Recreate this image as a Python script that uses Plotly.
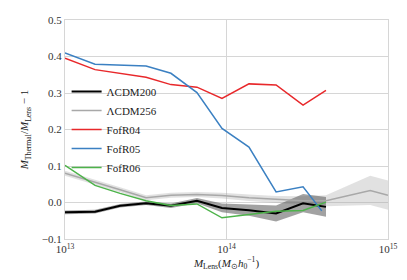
import plotly.graph_objects as go

# Mass bins (log10 M_Lens) for each series
logm_bins = [13.0, 13.186, 13.341, 13.502, 13.656, 13.817, 13.972, 14.139, 14.307, 14.474, 14.616]

lcdm200_logm = logm_bins
lcdm200_val = [-0.027, -0.025, -0.009, -0.002, -0.009, 0.005, -0.015, -0.021, -0.030, -0.002, -0.012]
lcdm200_err = [0.005, 0.005, 0.005, 0.005, 0.006, 0.007, 0.012, 0.015, 0.022, 0.025, 0.027]

lcdm256_logm = logm_bins + [14.89, 15.0]
lcdm256_val = [0.080, 0.056, 0.035, 0.013, 0.020, 0.022, 0.019, 0.013, 0.008, 0.005, 0.005, 0.033, 0.020]
lcdm256_err = [0.007, 0.007, 0.007, 0.007, 0.007, 0.007, 0.008, 0.009, 0.010, 0.012, 0.015, 0.040, 0.040]

fofr04_logm = [13.0, 13.186, 13.502, 13.656, 13.817, 13.972, 14.139, 14.307, 14.474, 14.616]
fofr04_val = [0.395, 0.364, 0.343, 0.323, 0.316, 0.285, 0.325, 0.322, 0.267, 0.307]

fofr05_logm = [13.0, 13.186, 13.502, 13.656, 13.817, 13.972, 14.139, 14.307, 14.474, 14.59]
fofr05_val = [0.410, 0.379, 0.374, 0.354, 0.301, 0.203, 0.152, 0.029, 0.043, -0.023]

fofr06_logm = logm_bins
fofr06_val = [0.102, 0.047, 0.025, 0.005, -0.008, -0.004, -0.042, -0.032, -0.024, -0.022, 0.001]

y_ticks = [-0.1, 0.0, 0.1, 0.2, 0.3, 0.4, 0.5]
y_ticktext = ["\u22120.1", "0.0", "0.1", "0.2", "0.3", "0.4", "0.5"]
x_ticks = [1e13, 1e14, 1e15]
x_ticktext = ["10<sup>13</sup>", "10<sup>14</sup>", "10<sup>15</sup>"]

FONT = "Liberation Serif"

def m(logs):
    return [10 ** v for v in logs]

fig = go.Figure()

def band(logs, val, err, color):
    x = m(logs)
    up = [v + e for v, e in zip(val, err)]
    lo = [v - e for v, e in zip(val, err)]
    fig.add_trace(go.Scatter(x=x, y=up, mode="lines", line=dict(width=0), showlegend=False, hoverinfo="skip"))
    fig.add_trace(go.Scatter(x=x, y=lo, mode="lines", line=dict(width=0), fill="tonexty",
                             fillcolor=color, showlegend=False, hoverinfo="skip"))

band(lcdm256_logm, lcdm256_val, lcdm256_err, "rgba(170,170,170,0.35)")
band(lcdm200_logm, lcdm200_val, lcdm200_err, "rgba(100,100,100,0.6)")

fig.add_trace(go.Scatter(x=m(lcdm200_logm), y=lcdm200_val, mode="lines", name="\u039bCDM200",
                         line=dict(color="black", width=2)))
fig.add_trace(go.Scatter(x=m(lcdm256_logm), y=lcdm256_val, mode="lines", name="\u039bCDM256",
                         line=dict(color="#a8a8a8", width=1.5)))
fig.add_trace(go.Scatter(x=m(fofr04_logm), y=fofr04_val, mode="lines", name="FofR04",
                         line=dict(color="#e8282b", width=1.5)))
fig.add_trace(go.Scatter(x=m(fofr05_logm), y=fofr05_val, mode="lines", name="FofR05",
                         line=dict(color="#3b80c2", width=1.5)))
fig.add_trace(go.Scatter(x=m(fofr06_logm), y=fofr06_val, mode="lines", name="FofR06",
                         line=dict(color="#4db34a", width=1.5)))

fig.update_layout(
    width=399, height=272,
    margin=dict(l=57, r=19, t=6, b=41),
    paper_bgcolor="white", plot_bgcolor="white",
    font=dict(family=FONT, size=10, color="#333"),
    showlegend=True,
    legend=dict(x=0.005, y=0.74, xanchor="left", yanchor="top", traceorder="normal",
                bgcolor="rgba(255,255,255,0)", font=dict(family=FONT, size=11, color="#222"),
                tracegroupgap=0, itemwidth=30),
    xaxis=dict(type="log", range=[13, 15], tickvals=x_ticks, ticktext=x_ticktext,
               showgrid=True, gridcolor="#d6d6d6", gridwidth=1,
               showline=True, linecolor="#d6d6d6", linewidth=1, mirror=True,
               ticks="", zeroline=False, ticklabeloverflow="allow",
               tickfont=dict(family=FONT, size=11, color="#333"),
               title=dict(text="<i>M</i><sub>Lens</sub>(<i>M</i><sub>\u2299</sub><i>h</i><sub>0</sub><sup>\u22121</sup>)",
                          font=dict(family=FONT, size=11, color="#222"), standoff=0)),
    yaxis=dict(range=[-0.1, 0.5], tickvals=y_ticks, ticktext=y_ticktext,
               showgrid=True, gridcolor="#d6d6d6", gridwidth=1,
               showline=True, linecolor="#d6d6d6", linewidth=1, mirror=True,
               ticks="", zeroline=False, ticklabeloverflow="allow",
               tickfont=dict(family=FONT, size=11, color="#333"),
               title=dict(text="<i>M</i><sub>Thermal</sub>/<i>M</i><sub>Lens</sub> \u2212 1",
                          font=dict(family=FONT, size=11, color="#222"), standoff=10)),
)

fig.write_html("out.html")
